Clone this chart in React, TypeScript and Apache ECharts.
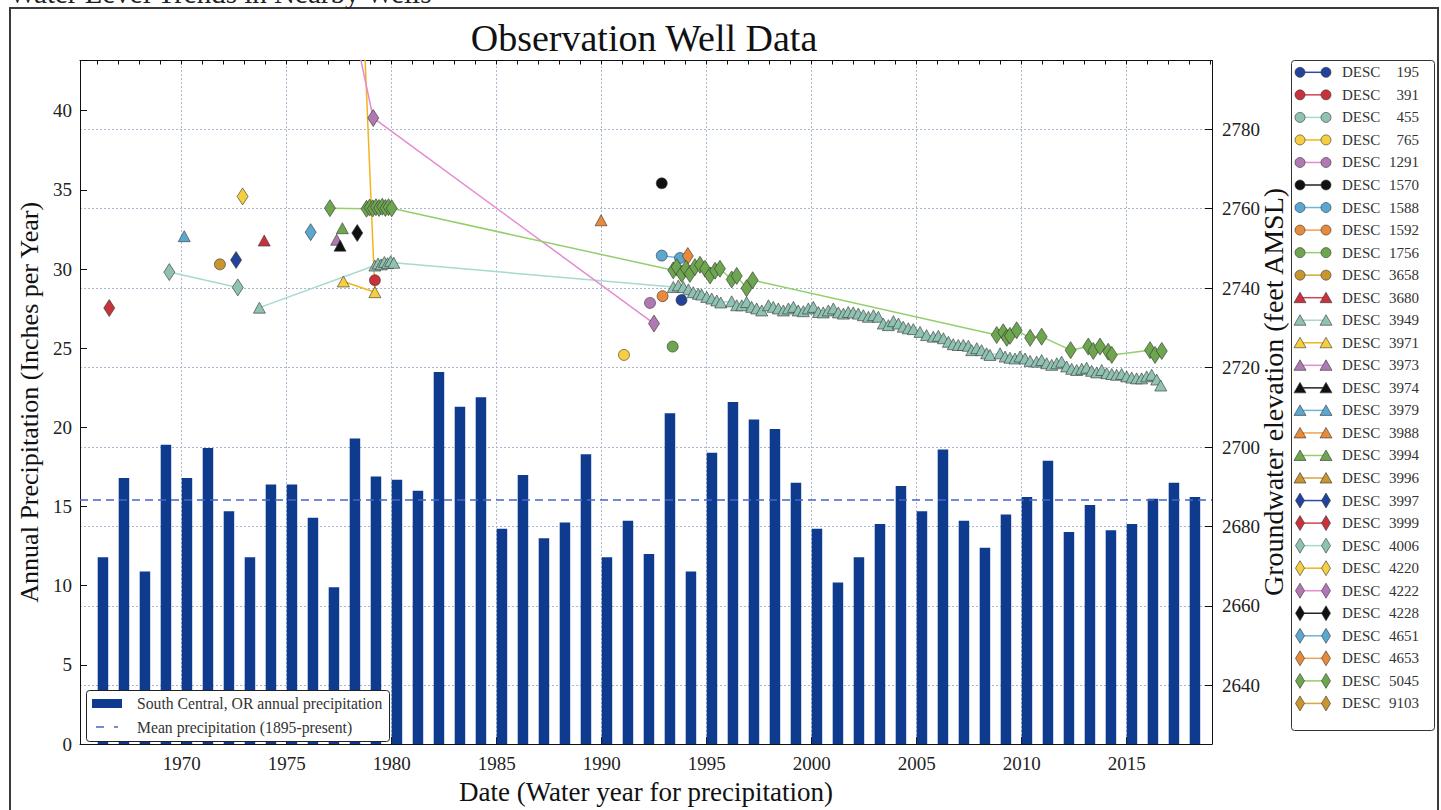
import React, { useEffect, useRef } from 'react';
import * as echarts from 'echarts';

const FONT = '"Liberation Serif", "Times New Roman", "DejaVu Serif", serif';

// ---------- data ----------
const years = [
  1966, 1967, 1968, 1969, 1970, 1971, 1972, 1973, 1974, 1975, 1976, 1977, 1978, 1979, 1980,
  1981, 1982, 1983, 1984, 1985, 1986, 1987, 1988, 1989, 1990, 1991, 1992, 1993, 1994, 1995,
  1996, 1997, 1998, 1999, 2000, 2001, 2002, 2003, 2004, 2005, 2006, 2007, 2008, 2009, 2010,
  2011, 2012, 2013, 2014, 2015, 2016, 2017, 2018,
];
const precip = [
  11.8, 16.8, 10.9, 18.9, 16.8, 18.7, 14.7, 11.8, 16.4, 16.4, 14.3, 9.9, 19.3, 16.9, 16.7,
  16.0, 23.5, 21.3, 21.9, 13.6, 17.0, 13.0, 14.0, 18.3, 11.8, 14.1, 12.0, 20.9, 10.9, 18.4,
  21.6, 20.5, 19.9, 16.5, 13.6, 10.2, 11.8, 13.9, 16.3, 14.7, 18.6, 14.1, 12.4, 14.5, 15.6,
  17.9, 13.4, 15.1, 13.5, 13.9, 15.5, 16.5, 15.6,
];
const MEAN_PRECIP = 15.45;

const xTickYears = [1970, 1975, 1980, 1985, 1990, 1995, 2000, 2005, 2010, 2015];
const topTickYears = [
  1966, 1967, 1968, 1969, 1970, 1971, 1972, 1973, 1974, 1975, 1976, 1977, 1978, 1979, 1980,
  1981, 1982, 1983, 1984, 1985, 1986, 1987, 1988, 1989, 1990, 1991, 1992, 1993, 1994, 1995,
  1996, 1997, 1998, 1999, 2000, 2001, 2002, 2003, 2004, 2005, 2006, 2007, 2008, 2009, 2010,
  2011, 2012, 2013, 2014, 2015, 2016, 2017, 2018, 2019,
];
const rightTicks = [2640, 2660, 2680, 2700, 2720, 2740, 2760, 2780];

// groundwater elevation series: [decimal year, feet AMSL]
const desc195 = [[1993.8, 2737.0]];
const desc391 = [[1979.2, 2742.0]];
const desc455: number[][] = [];
const desc765 = [[1991.06, 2723.2]];
const desc1291 = [[1992.3, 2736.3]];
const desc1570 = [[1992.86, 2766.4]];
const desc1588 = [[1992.86, 2748.2], [1993.73, 2747.6]];
const desc1592 = [[1992.9, 2738.0]];
const desc1756 = [[1993.38, 2725.3]];
const desc3658 = [[1971.82, 2746.0]];
const desc3680 = [[1973.93, 2752.0]];
const desc3949 = [
  [1973.7, 2735.1],
  [1979.2, 2745.7], [1979.35, 2746.2], [1979.5, 2746.0], [1979.65, 2746.6], [1979.8, 2746.3], [1979.95, 2746.8], [1980.1, 2746.4],
  [1993.41, 2740.3], [1993.65, 2740.7], [1993.89, 2740.3], [1994.13, 2739.7], [1994.36, 2739.0], [1994.6, 2738.6],
  [1994.76, 2738.4], [1995.0, 2737.8], [1995.24, 2737.4], [1995.48, 2736.9], [1995.67, 2736.4], [1996.19, 2736.7],
  [1996.43, 2735.7], [1996.67, 2735.7], [1996.9, 2736.5], [1997.14, 2735.3], [1997.38, 2734.9], [1997.62, 2734.4],
  [1997.94, 2735.7], [1998.17, 2735.3], [1998.41, 2734.9], [1998.65, 2734.4], [1998.89, 2734.9], [1999.13, 2735.3],
  [1999.36, 2734.4], [1999.6, 2734.2], [1999.84, 2734.9], [2000.08, 2735.3], [2000.32, 2734.0], [2000.55, 2733.9],
  [2000.79, 2734.4], [2001.03, 2734.9], [2001.27, 2733.9], [2001.51, 2733.6], [2001.74, 2734.0], [2001.98, 2733.9],
  [2002.22, 2733.6], [2002.46, 2733.2], [2002.7, 2732.8], [2002.94, 2733.2], [2003.17, 2732.8], [2003.41, 2731.1],
  [2003.65, 2730.7], [2003.89, 2731.7], [2004.13, 2731.1], [2004.36, 2730.3], [2004.6, 2729.9], [2004.84, 2729.7],
  [2005.16, 2729.0], [2005.47, 2728.2], [2005.79, 2727.8], [2006.03, 2728.0], [2006.27, 2727.4], [2006.51, 2726.5],
  [2006.74, 2725.9], [2006.98, 2725.7], [2007.22, 2725.7], [2007.46, 2725.5], [2007.62, 2724.4], [2007.86, 2724.9],
  [2008.09, 2724.4], [2008.33, 2723.6], [2008.49, 2723.2], [2008.97, 2723.6], [2009.21, 2722.8], [2009.44, 2722.5],
  [2009.68, 2722.3], [2009.92, 2722.8], [2010.16, 2722.3], [2010.4, 2721.7], [2010.71, 2721.5], [2010.95, 2721.9],
  [2011.19, 2721.1], [2011.43, 2720.7], [2011.67, 2721.1], [2011.9, 2721.5], [2012.14, 2720.3], [2012.38, 2719.7],
  [2012.62, 2719.4], [2012.86, 2719.7], [2013.09, 2720.0], [2013.33, 2719.2], [2013.57, 2718.8], [2013.81, 2719.4],
  [2014.05, 2718.6], [2014.29, 2718.4], [2014.52, 2718.2], [2014.76, 2718.4], [2015.0, 2717.8], [2015.24, 2717.5],
  [2015.47, 2717.3], [2015.71, 2717.3], [2015.95, 2717.8], [2016.19, 2718.2], [2016.43, 2717.0], [2016.62, 2715.5],
];
const desc3971 = [[1977.7, 2741.7], [1979.2, 2739.0], [1978.5, 2827.0]];
const desc3973 = [[1977.38, 2752.2]];
const desc3974 = [[1977.54, 2750.7]];
const desc3979 = [[1970.12, 2753.1]];
const desc3988 = [[1989.97, 2757.1]];
const desc3994 = [[1977.65, 2755.1]];
const desc3996: number[][] = [];
const desc3997 = [[1972.59, 2747.1]];
const desc3999 = [[1966.55, 2735.0]];
const desc4006 = [[1969.41, 2744.05], [1972.67, 2740.2]];
const desc4220 = [[1972.9, 2763.1]];
const desc4222 = [[1977.5, 2823.0], [1979.12, 2782.85], [1992.49, 2731.1]];
const desc4228 = [[1978.36, 2753.9]];
const desc4651 = [[1976.14, 2754.1]];
const desc4653 = [[1994.1, 2748.1]];
const desc5045 = [
  [1977.06, 2760.15],
  [1978.8, 2760.0], [1978.95, 2760.3], [1979.1, 2760.1], [1979.25, 2760.4], [1979.4, 2760.2], [1979.55, 2760.5],
  [1979.7, 2760.2], [1979.85, 2760.4], [1980.0, 2760.1],
  [1993.41, 2744.5], [1993.57, 2745.3], [1993.81, 2743.6], [1994.01, 2744.9], [1994.2, 2743.6], [1994.44, 2745.3],
  [1994.68, 2745.9], [1994.92, 2744.9], [1995.16, 2743.2], [1995.4, 2744.4], [1995.63, 2744.9], [1996.19, 2742.2],
  [1996.43, 2743.1], [1996.9, 2740.0], [1997.19, 2742.0],
  [2008.81, 2728.2], [2009.12, 2728.9], [2009.29, 2727.5], [2009.44, 2728.0], [2009.76, 2729.4], [2010.4, 2727.5],
  [2010.95, 2727.8],
  [2012.33, 2724.4], [2013.17, 2725.3], [2013.41, 2724.2], [2013.73, 2725.3], [2014.12, 2724.0], [2014.29, 2723.2],
  [2016.11, 2724.4], [2016.35, 2723.2], [2016.67, 2724.2],
];
const desc9103: number[][] = [];

// ---------- styles ----------
const C = {
  blue: ['#23439a', '#2a4cb0'],
  red: ['#c7323d', '#d04550'],
  teal: ['#8fc2b2', '#a6dad0'],
  yellow: ['#f5cf40', '#f2b41c'],
  purple: ['#b079b3', '#e48bd2'],
  black: ['#111111', '#222222'],
  lblue: ['#5aa7cf', '#6cb6dc'],
  orange: ['#e88a3a', '#f0a050'],
  green: ['#6ea64f', '#93cf6a'],
  ochre: ['#c8952e', '#d6a640'],
};

type Well = { name: string; marker: 'circle' | 'triangle' | 'diamond'; color: string[]; data: number[][] };
const wells: Well[] = [
  { name: 'DESC  195', marker: 'circle', color: C.blue, data: desc195 },
  { name: 'DESC  391', marker: 'circle', color: C.red, data: desc391 },
  { name: 'DESC  455', marker: 'circle', color: C.teal, data: desc455 },
  { name: 'DESC  765', marker: 'circle', color: C.yellow, data: desc765 },
  { name: 'DESC  1291', marker: 'circle', color: C.purple, data: desc1291 },
  { name: 'DESC  1570', marker: 'circle', color: C.black, data: desc1570 },
  { name: 'DESC  1588', marker: 'circle', color: C.lblue, data: desc1588 },
  { name: 'DESC  1592', marker: 'circle', color: C.orange, data: desc1592 },
  { name: 'DESC  1756', marker: 'circle', color: C.green, data: desc1756 },
  { name: 'DESC  3658', marker: 'circle', color: C.ochre, data: desc3658 },
  { name: 'DESC  3680', marker: 'triangle', color: C.red, data: desc3680 },
  { name: 'DESC  3949', marker: 'triangle', color: C.teal, data: desc3949 },
  { name: 'DESC  3971', marker: 'triangle', color: C.yellow, data: desc3971 },
  { name: 'DESC  3973', marker: 'triangle', color: C.purple, data: desc3973 },
  { name: 'DESC  3974', marker: 'triangle', color: C.black, data: desc3974 },
  { name: 'DESC  3979', marker: 'triangle', color: C.lblue, data: desc3979 },
  { name: 'DESC  3988', marker: 'triangle', color: C.orange, data: desc3988 },
  { name: 'DESC  3994', marker: 'triangle', color: C.green, data: desc3994 },
  { name: 'DESC  3996', marker: 'triangle', color: C.ochre, data: desc3996 },
  { name: 'DESC  3997', marker: 'diamond', color: C.blue, data: desc3997 },
  { name: 'DESC  3999', marker: 'diamond', color: C.red, data: desc3999 },
  { name: 'DESC  4006', marker: 'diamond', color: C.teal, data: desc4006 },
  { name: 'DESC  4220', marker: 'diamond', color: C.yellow, data: desc4220 },
  { name: 'DESC  4222', marker: 'diamond', color: C.purple, data: desc4222 },
  { name: 'DESC  4228', marker: 'diamond', color: C.black, data: desc4228 },
  { name: 'DESC  4651', marker: 'diamond', color: C.lblue, data: desc4651 },
  { name: 'DESC  4653', marker: 'diamond', color: C.orange, data: desc4653 },
  { name: 'DESC  5045', marker: 'diamond', color: C.green, data: desc5045 },
  { name: 'DESC  9103', marker: 'diamond', color: C.ochre, data: desc9103 },
];

const X_MIN = 1965.157;
const X_MAX = 2019.062;
const BAR_COLOR = '#0e3b8e';
const MEAN_COLOR = '#4566c6';
const GRID_LINE = { color: '#a9b6d0', type: [2, 2] as number[], width: 1 };

function symbolSize(m: string): number | number[] {
  if (m === 'circle') return 11;
  if (m === 'triangle') return [12, 11];
  return [11, 17];
}

function legendMarker(m: string, x: number, y: number, color: string) {
  const style = { fill: color, stroke: 'rgba(50,50,50,0.75)', lineWidth: 0.8 };
  if (m === 'circle') return { type: 'circle', shape: { cx: x, cy: y, r: 5 }, style };
  if (m === 'triangle')
    return { type: 'polygon', shape: { points: [[x, y - 5.5], [x + 6, y + 5], [x - 6, y + 5]] }, style };
  return { type: 'polygon', shape: { points: [[x, y - 7.5], [x + 4.5, y], [x, y + 7.5], [x - 4.5, y]] }, style };
}

function buildOption() {
  const wellSeries = wells.map((w) => ({
    type: 'line',
    name: w.name,
    xAxisIndex: 0,
    yAxisIndex: 1,
    data: w.data,
    symbol: w.marker,
    symbolSize: symbolSize(w.marker),
    showSymbol: true,
    showAllSymbol: true,
    clip: true,
    lineStyle: { color: w.color[1], width: 1.5 },
    itemStyle: { color: w.color[0], borderColor: 'rgba(50,50,50,0.75)', borderWidth: 0.8 },
    emphasis: { disabled: true },
    z: 5,
  }));

  const legendItems: any[] = [];
  const LX = 1291, LY = 60, LW = 143, LH = 670;
  legendItems.push({
    type: 'rect',
    shape: { x: LX + 0.5, y: LY + 0.5, width: LW, height: LH, r: 3 },
    style: { fill: '#fff', stroke: '#333', lineWidth: 1 },
    z: 10,
  });
  wells.forEach((w, i) => {
    const y = 72.3 + i * 22.54;
    legendItems.push({
      type: 'line',
      shape: { x1: 1300, y1: y, x2: 1326, y2: y },
      style: { stroke: w.color[1], lineWidth: 1.5 },
      z: 11,
    });
    legendItems.push({ ...legendMarker(w.marker, 1300, y, w.color[0]), z: 12 });
    legendItems.push({ ...legendMarker(w.marker, 1326, y, w.color[0]), z: 12 });
    const parts = w.name.split(/\s+/);
    legendItems.push({
      type: 'text',
      x: 1342,
      y,
      style: { text: parts[0], font: `15px ${FONT}`, fill: '#333', align: 'left', verticalAlign: 'middle' },
      z: 12,
    });
    legendItems.push({
      type: 'text',
      x: 1419,
      y,
      style: { text: parts[1], font: `15px ${FONT}`, fill: '#333', align: 'right', verticalAlign: 'middle' },
      z: 12,
    });
  });

  const graphic: any[] = [
    {
      type: 'rect',
      shape: { x: 10, y: 8, width: 1428, height: 830 },
      style: { fill: 'none', stroke: '#3a3a3a', lineWidth: 2 },
      z: 1,
    },
    {
      type: 'text',
      x: 9,
      y: 7,
      style: { text: 'Water Level Trends in Nearby Wells', font: `29px ${FONT}`, fill: '#222', align: 'left', verticalAlign: 'bottom' },
      z: 1,
    },
    {
      type: 'text',
      x: 644,
      y: 38,
      style: { text: 'Observation Well Data', font: `38px ${FONT}`, fill: '#111', align: 'center', verticalAlign: 'middle' },
      z: 10,
    },
    {
      type: 'text',
      x: 1273,
      y: 392,
      rotation: Math.PI / 2,
      style: { text: 'Groundwater elevation (feet AMSL)', font: `28px ${FONT}`, fill: '#111', align: 'center', verticalAlign: 'middle' },
      z: 10,
    },
    // precipitation legend
    {
      type: 'rect',
      shape: { x: 86.5, y: 690.5, width: 303, height: 51, r: 3 },
      style: { fill: '#fff', stroke: '#222', lineWidth: 1 },
      z: 10,
    },
    {
      type: 'rect',
      shape: { x: 92, y: 699, width: 30, height: 9 },
      style: { fill: BAR_COLOR },
      z: 11,
    },
    {
      type: 'text',
      x: 137,
      y: 703.5,
      style: { text: 'South Central, OR annual precipitation', font: `15.7px ${FONT}`, fill: '#333', align: 'left', verticalAlign: 'middle' },
      z: 11,
    },
    {
      type: 'line',
      shape: { x1: 96, y1: 727, x2: 118, y2: 727 },
      style: { stroke: MEAN_COLOR, lineWidth: 1.5, lineDash: [8, 10] },
      z: 11,
    },
    {
      type: 'text',
      x: 137,
      y: 727,
      style: { text: 'Mean precipitation (1895-present)', font: `15.7px ${FONT}`, fill: '#333', align: 'left', verticalAlign: 'middle' },
      z: 11,
    },
    ...legendItems,
  ];

  const gridLineSeries = {
    type: 'line',
    name: 'grid',
    xAxisIndex: 0,
    yAxisIndex: 1,
    data: [],
    silent: true,
    z: 0,
    markLine: {
      silent: true,
      symbol: ['none', 'none'],
      label: { show: false },
      lineStyle: GRID_LINE,
      data: xTickYears.map((y) => ({ xAxis: y })),
      z: 0,
    },
  };

  return {
    animation: false,
    backgroundColor: '#ffffff',
    grid: { left: 80, top: 60.5, right: 229, bottom: 62, containLabel: false },
    xAxis: [
      {
        type: 'value',
        position: 'bottom',
        min: X_MIN,
        max: X_MAX,
        axisLine: { show: true, onZero: false, lineStyle: { color: '#111', width: 1 } },
        axisTick: { show: true, inside: true, length: 7, customValues: xTickYears, lineStyle: { color: '#111' } },
        axisLabel: {
          show: true,
          customValues: xTickYears,
          formatter: (v: number) => String(Math.round(v)),
          fontFamily: FONT,
          fontSize: 19,
          color: '#222',
          margin: 10,
        },
        splitLine: { show: false },
        name: 'Date (Water year for precipitation)',
        nameLocation: 'middle',
        nameGap: 32,
        nameTextStyle: { fontFamily: FONT, fontSize: 27, color: '#111' },
      },
      {
        type: 'value',
        position: 'top',
        min: X_MIN,
        max: X_MAX,
        axisLine: { show: true, onZero: false, lineStyle: { color: '#111', width: 1 } },
        axisTick: { show: true, inside: true, length: 4, customValues: topTickYears, lineStyle: { color: '#111' } },
        axisLabel: { show: false },
        splitLine: { show: false },
      },
    ],
    yAxis: [
      {
        type: 'value',
        position: 'left',
        min: 0,
        max: 43.17,
        interval: 5,
        axisLine: { show: true, lineStyle: { color: '#111', width: 1 } },
        axisTick: { show: true, inside: true, length: 7, lineStyle: { color: '#111' } },
        axisLabel: { fontFamily: FONT, fontSize: 19, color: '#222', margin: 8, showMaxLabel: false },
        splitLine: { show: false },
        name: 'Annual Precipitation (Inches per Year)',
        nameLocation: 'middle',
        nameRotate: 90,
        nameGap: 37,
        nameTextStyle: { fontFamily: FONT, fontSize: 26, color: '#111' },
      },
      {
        type: 'value',
        position: 'right',
        min: 2625.23,
        max: 2797.32,
        axisLine: { show: true, lineStyle: { color: '#111', width: 1 } },
        axisTick: { show: true, inside: true, length: 7, customValues: rightTicks, lineStyle: { color: '#111' } },
        axisLabel: {
          customValues: rightTicks,
          formatter: (v: number) => String(Math.round(v)),
          fontFamily: FONT,
          fontSize: 19,
          color: '#222',
          margin: 10,
        },
        splitLine: { show: true, lineStyle: GRID_LINE },
      },
    ],
    series: [
      gridLineSeries,
      {
        type: 'bar',
        name: 'South Central, OR annual precipitation',
        xAxisIndex: 0,
        yAxisIndex: 0,
        data: years.map((y, i) => [y + 0.25, precip[i]]),
        barWidth: 10.5,
        itemStyle: { color: BAR_COLOR },
        emphasis: { disabled: true },
        z: 2,
        markLine: {
          silent: true,
          symbol: ['none', 'none'],
          label: { show: false },
          lineStyle: { color: MEAN_COLOR, type: [8, 5], width: 1.5 },
          data: [{ yAxis: MEAN_PRECIP }],
          z: 3,
        },
      },
      ...wellSeries,
    ],
    graphic,
  };
}

export default function App() {
  const ref = useRef<HTMLDivElement>(null);
  useEffect(() => {
    if (!ref.current) return;
    const chart = echarts.init(ref.current, null, { renderer: 'svg' });
    chart.setOption(buildOption() as any);
    return () => chart.dispose();
  }, []);
  return (
    <div
      ref={ref}
      style={{ position: 'fixed', left: 0, top: 0, width: 1441, height: 810, background: '#fff' }}
    />
  );
}
